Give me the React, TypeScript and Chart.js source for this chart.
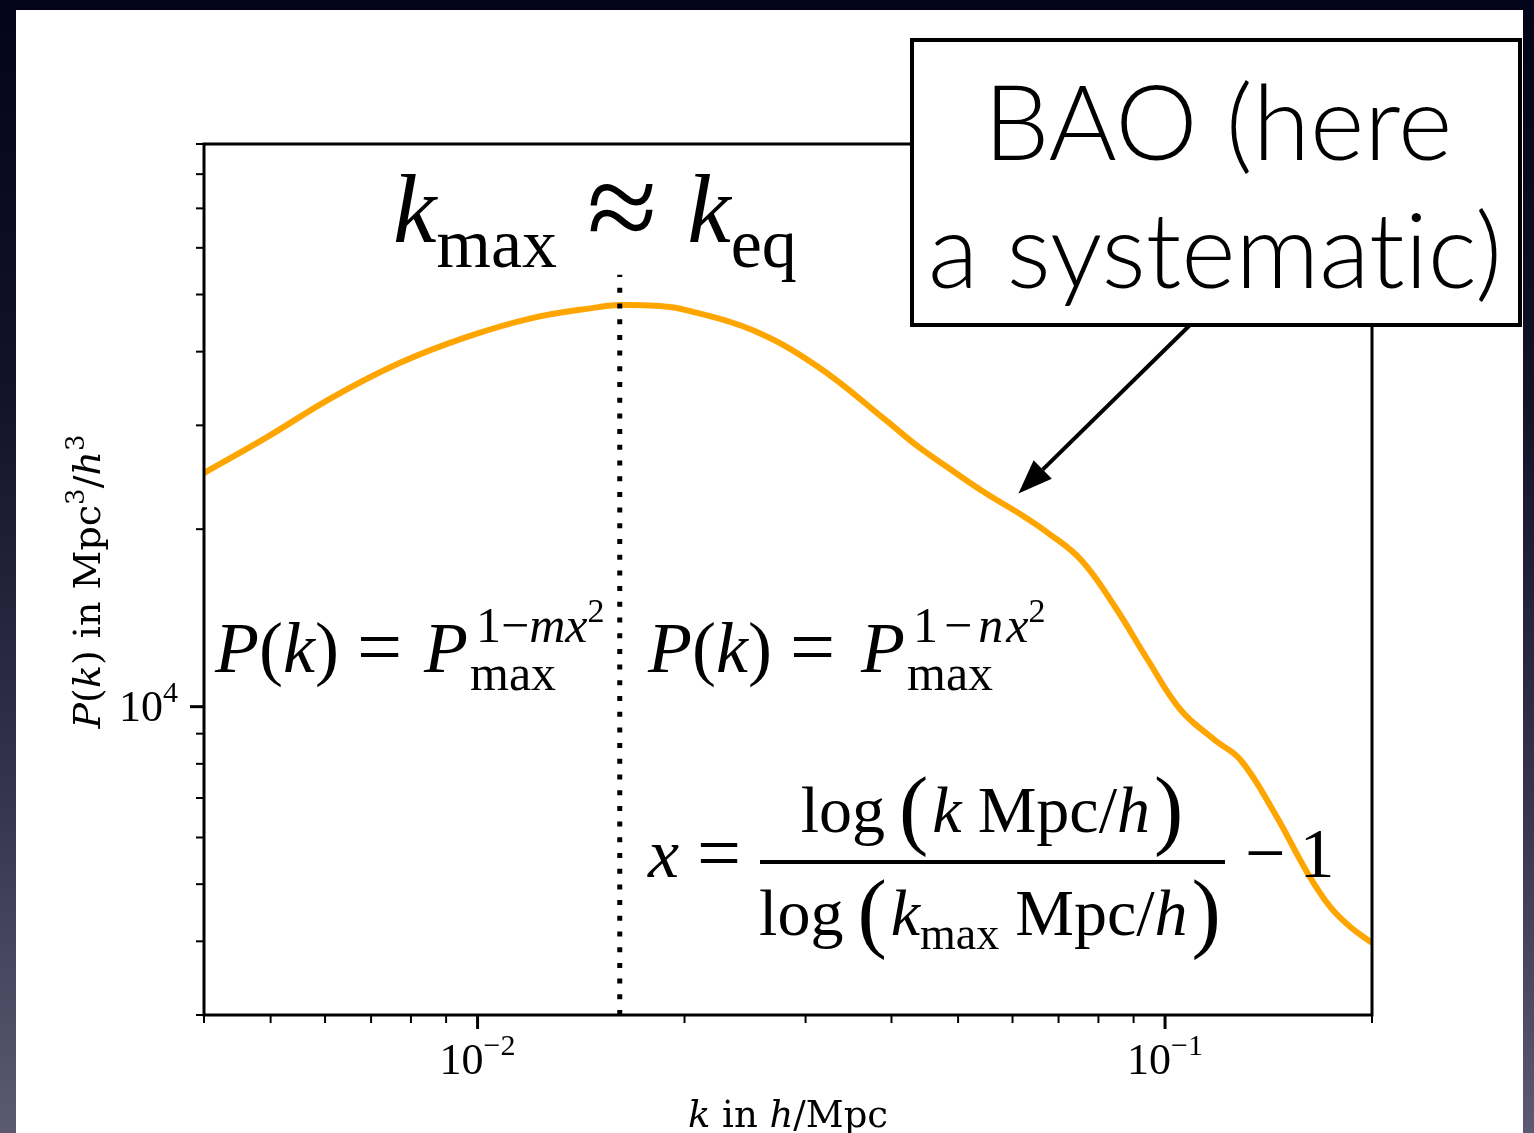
import React, { useEffect, useRef } from 'react';
import { Chart, registerables } from 'chart.js';

Chart.register(...registerables);

// ---- data ----
const K_VALUES = [
  0.004, 0.00494, 0.00616, 0.0077, 0.00963, 0.012, 0.015, 0.0161, 0.0184, 0.0201,
  0.0251, 0.0313, 0.0392, 0.0438, 0.0489, 0.0548, 0.0612, 0.0676, 0.0755, 0.0846,
  0.0944, 0.1054, 0.1181, 0.1288, 0.1443, 0.1612, 0.174, 0.186, 0.2,
];
const P_VALUES = [
  24900, 28650, 33500, 38260, 42330, 45600, 47600, 48000, 47800, 47060,
  43530, 37680, 30640, 27570, 25200, 23030, 21300, 19700, 17730, 14760,
  12000, 9870, 8780, 8120, 6600, 5220, 4570, 4230, 3975,
];
const K_MAX = 0.0161;
const K_MAX_LINE_P = [3000, 54000];
const X_RANGE = [0.004, 0.2];
const Y_RANGE = [3000, 90000];
const X_MAJOR_TICKS = [0.01, 0.1];
const X_MAJOR_LABELS = [['10', '−2'], ['10', '−1']];
const X_MINOR_TICKS = [0.004, 0.005, 0.006, 0.007, 0.008, 0.009, 0.02, 0.03, 0.04, 0.05, 0.06, 0.07, 0.08, 0.09, 0.2];
const Y_MAJOR_TICKS = [10000];
const Y_MAJOR_LABELS = [['10', '4']];
const Y_MINOR_TICKS = [3000, 4000, 5000, 6000, 7000, 8000, 9000, 20000, 30000, 40000, 50000, 60000, 70000, 80000, 90000];
const ARROW_TIP = { k: 0.0612, p: 23000 };
const BOX_LINES = ['BAO (here', 'a systematic)'];

const SERIF = '"Liberation Serif", "Times New Roman", serif';
const TITLE_SERIF = '"DejaVu Serif", "Liberation Serif", serif';
const SANS_LIGHT = 'Lato, "Open Sans", Roboto, sans-serif';

type Run = { t?: string; s?: number; i?: boolean; dy?: number; gap?: number; stack?: Run[][]; f?: string; w?: number };

function fontOf(r: Run) {
  return `${r.i ? 'italic ' : ''}${r.w || 400} ${r.s || 40}px ${r.f || SERIF}`;
}
function runWidth(ctx: CanvasRenderingContext2D, r: Run): number {
  if (r.gap !== undefined) return r.gap;
  if (r.stack) return Math.max(...r.stack.map((s) => seqWidth(ctx, s)));
  ctx.font = fontOf(r);
  return ctx.measureText(r.t || '').width;
}
function seqWidth(ctx: CanvasRenderingContext2D, seq: Run[]): number {
  return seq.reduce((a, r) => a + runWidth(ctx, r), 0);
}
function drawSeq(ctx: CanvasRenderingContext2D, seq: Run[], x: number, y: number): number {
  for (const r of seq) {
    if (r.gap !== undefined) { x += r.gap; continue; }
    if (r.stack) {
      for (const s of r.stack) drawSeq(ctx, s, x, y);
      x += runWidth(ctx, r);
      continue;
    }
    ctx.font = fontOf(r);
    ctx.fillText(r.t || '', x, y + (r.dy || 0));
    x += ctx.measureText(r.t || '').width;
  }
  return x;
}
function drawSeqCentered(ctx: CanvasRenderingContext2D, seq: Run[], cx: number, y: number) {
  drawSeq(ctx, seq, cx - seqWidth(ctx, seq) / 2, y);
}

function pFormula(letter: string, g1: number, g2: number, sg: number): Run[] {
  return [
    { t: 'P', s: 72, i: true },
    { t: '(', s: 72 },
    { t: 'k', s: 72, i: true },
    { t: ')', s: 72 },
    { gap: g1 },
    { t: '=', s: 80, dy: 2 },
    { gap: g2 },
    { t: 'P', s: 72, i: true },
    { gap: 2 },
    {
      stack: [
        [{ t: 'max', s: 50, dy: 18 }],
        [
          { gap: 6 },
          { t: '1', s: 50, dy: -30 },
          { gap: sg },
          { t: '−', s: 50, dy: -30 },
          { gap: sg },
          { t: letter, s: 50, i: true, dy: -30 },
          { gap: sg / 2 },
          { t: 'x', s: 50, i: true, dy: -30 },
          { t: '2', s: 34, dy: -50 },
        ],
      ],
    },
  ];
}

const annotPlugin = {
  id: 'annot',
  afterDraw(chart: any) {
    const { ctx, chartArea: a } = chart;
    const xs = chart.scales.x;
    const ys = chart.scales.y;
    ctx.save();
    ctx.fillStyle = '#000';
    ctx.strokeStyle = '#000';
    ctx.textBaseline = 'alphabetic';
    ctx.textAlign = 'left';

    // frame
    ctx.lineWidth = 3;
    ctx.strokeRect(a.left, a.top, a.right - a.left, a.bottom - a.top);

    // ticks
    const tickX = (v: number, len: number, w: number) => {
      const px = xs.getPixelForValue(v);
      ctx.lineWidth = w;
      ctx.beginPath();
      ctx.moveTo(px, a.bottom);
      ctx.lineTo(px, a.bottom + len);
      ctx.stroke();
    };
    const tickY = (v: number, len: number, w: number) => {
      const py = ys.getPixelForValue(v);
      ctx.lineWidth = w;
      ctx.beginPath();
      ctx.moveTo(a.left, py);
      ctx.lineTo(a.left - len, py);
      ctx.stroke();
    };
    X_MINOR_TICKS.forEach((v) => tickX(v, 8, 2));
    X_MAJOR_TICKS.forEach((v) => tickX(v, 14, 3));
    Y_MINOR_TICKS.forEach((v) => tickY(v, 8, 2));
    Y_MAJOR_TICKS.forEach((v) => tickY(v, 14, 3));

    // tick labels
    X_MAJOR_TICKS.forEach((v, i) => {
      const [b, e] = X_MAJOR_LABELS[i];
      drawSeqCentered(ctx, [{ t: b, s: 44 }, { t: e, s: 30, dy: -19 }], xs.getPixelForValue(v), a.bottom + 59);
    });
    Y_MAJOR_TICKS.forEach((v, i) => {
      const [b, e] = Y_MAJOR_LABELS[i];
      const seq: Run[] = [{ t: b, s: 44 }, { t: e, s: 30, dy: -19 }];
      drawSeq(ctx, seq, a.left - 26 - seqWidth(ctx, seq), ys.getPixelForValue(v) + 14);
    });

    // axis titles
    const xTitle: Run[] = [
      { t: 'k', s: 37, i: true, f: TITLE_SERIF },
      { t: ' in ', s: 37, f: TITLE_SERIF },
      { t: 'h', s: 37, i: true, f: TITLE_SERIF },
      { t: '/Mpc', s: 37, f: TITLE_SERIF },
    ];
    drawSeqCentered(ctx, xTitle, (a.left + a.right) / 2, a.bottom + 112);
    const yTitle: Run[] = [
      { t: 'P', s: 38, i: true, f: TITLE_SERIF },
      { t: '(', s: 38, f: TITLE_SERIF },
      { t: 'k', s: 38, i: true, f: TITLE_SERIF },
      { t: ') in Mpc', s: 38, f: TITLE_SERIF },
      { t: '3', s: 26, dy: -16, f: TITLE_SERIF },
      { t: '/', s: 38, f: TITLE_SERIF },
      { t: 'h', s: 38, i: true, f: TITLE_SERIF },
      { t: '3', s: 26, dy: -16, f: TITLE_SERIF },
    ];
    ctx.save();
    ctx.translate(100, (a.top + a.bottom) / 2 + 2);
    ctx.rotate(-Math.PI / 2);
    drawSeqCentered(ctx, yTitle, 0, 0);
    ctx.restore();

    // title k_max ≈ k_eq
    drawSeq(ctx, [
      { t: 'k', s: 98, i: true },
      { t: 'max', s: 70, dy: 25 },
      { gap: 30 },
      { t: '≈', s: 128, dy: 8 },
      { gap: 30 },
      { t: 'k', s: 98, i: true },
      { t: 'eq', s: 70, dy: 25 },
    ], 393, 242);

    // P(k) formulas
    drawSeq(ctx, pFormula('m', 18, 22, 0), 215, 672);
    drawSeq(ctx, pFormula('n', 18, 26, 6), 648, 672);

    // x = log(...)/log(...) - 1
    drawSeq(ctx, [{ t: 'x', s: 70, i: true }, { gap: 18 }, { t: '=', s: 78, dy: 2 }], 648, 877);
    ctx.fillRect(760, 860, 465, 4);
    drawSeqCentered(ctx, [
      { t: 'log', s: 66 }, { gap: 14 }, { t: '(', s: 88, dy: 6 }, { gap: 4 },
      { t: 'k', s: 66, i: true }, { gap: 16 }, { t: 'Mpc', s: 66 }, { t: '/', s: 66 },
      { t: 'h', s: 66, i: true }, { gap: 4 }, { t: ')', s: 88, dy: 6 },
    ], 992, 832);
    drawSeqCentered(ctx, [
      { t: 'log', s: 66 }, { gap: 14 }, { t: '(', s: 88, dy: 6 }, { gap: 4 },
      { t: 'k', s: 66, i: true }, { t: 'max', s: 46, dy: 14 }, { gap: 16 },
      { t: 'Mpc', s: 66 }, { t: '/', s: 66 },
      { t: 'h', s: 66, i: true }, { gap: 4 }, { t: ')', s: 88, dy: 6 },
    ], 990, 935);
    drawSeq(ctx, [{ t: '−', s: 72 }, { gap: 14 }, { t: '1', s: 70 }], 1245, 877);

    // BAO box
    const bx = 912, by = 40, bw = 608, bh = 285;
    ctx.fillStyle = '#fff';
    ctx.fillRect(bx, by, bw, bh);
    ctx.lineWidth = 4;
    ctx.strokeRect(bx, by, bw, bh);
    ctx.fillStyle = '#000';
    try { (ctx as any).textRendering = 'optimizeSpeed'; } catch (e) { /* ignore */ }
    ctx.font = `300 100px ${SANS_LIGHT}`;
    const wRef = ctx.measureText(BOX_LINES[1]).width;
    const fs = Math.min(112, (100 * 574) / wRef);
    ctx.font = `300 ${fs.toFixed(1)}px ${SANS_LIGHT}`;
    ctx.textAlign = 'center';
    ctx.fillText(BOX_LINES[0], bx + bw / 2 + 2, 160);
    ctx.fillText(BOX_LINES[1], bx + bw / 2 - 1, 288);
    ctx.textAlign = 'left';

    // arrow
    const sx = 1190, sy = by + bh;
    const tx = xs.getPixelForValue(ARROW_TIP.k);
    const ty = ys.getPixelForValue(ARROW_TIP.p);
    const ang = Math.atan2(ty - sy, tx - sx);
    const hl = 34, hw = 13;
    const bxp = tx - hl * Math.cos(ang), byp = ty - hl * Math.sin(ang);
    ctx.lineWidth = 4;
    ctx.beginPath();
    ctx.moveTo(sx, sy);
    ctx.lineTo(bxp, byp);
    ctx.stroke();
    ctx.beginPath();
    ctx.moveTo(tx, ty);
    ctx.lineTo(bxp + hw * Math.sin(ang), byp - hw * Math.cos(ang));
    ctx.lineTo(bxp - hw * Math.sin(ang), byp + hw * Math.cos(ang));
    ctx.closePath();
    ctx.fill();

    ctx.restore();
  },
};

export default function App() {
  const ref = useRef<HTMLCanvasElement>(null);
  useEffect(() => {
    const chart = new Chart(ref.current as HTMLCanvasElement, {
      type: 'line',
      data: {
        datasets: [
          {
            label: 'k_max',
            data: K_MAX_LINE_P.map((p) => ({ x: K_MAX, y: p })),
            borderColor: '#000',
            borderWidth: 5,
            borderDash: [5, 10.7],
            borderCapStyle: 'butt',
            pointRadius: 0,
            order: 0,
          },
          {
            label: 'P(k)',
            data: K_VALUES.map((k, i) => ({ x: k, y: P_VALUES[i] })),
            borderColor: '#FFA500',
            borderWidth: 6,
            pointRadius: 0,
            tension: 0.4,
            order: 1,
          },
        ],
      },
      options: {
        responsive: false,
        animation: false,
        devicePixelRatio: 1,
        layout: { padding: { left: 0, top: 144, right: 162, bottom: 0 } },
        plugins: { legend: { display: false }, tooltip: { enabled: false } },
        scales: {
          x: {
            type: 'logarithmic',
            min: X_RANGE[0],
            max: X_RANGE[1],
            ticks: { display: false },
            grid: { display: false },
            border: { display: false },
            afterFit: (s: any) => { s.height = 118; },
          },
          y: {
            type: 'logarithmic',
            min: Y_RANGE[0],
            max: Y_RANGE[1],
            ticks: { display: false },
            grid: { display: false },
            border: { display: false },
            afterFit: (s: any) => { s.width = 204; },
          },
        },
      } as any,
      plugins: [annotPlugin],
    } as any);
    return () => chart.destroy();
  }, []);
  return (
    <div
      style={{
        position: 'fixed',
        left: 0,
        top: 0,
        width: 1534,
        height: 1133,
        overflow: 'hidden',
        background: 'linear-gradient(180deg, #03031a 0%, #121229 35%, #35334e 70%, #5c5a72 100%)',
      }}
    >
      <div style={{ position: 'absolute', left: 16, top: 10, width: 1507, height: 1123, background: '#fff' }} />
      <canvas
        ref={ref}
        width={1534}
        height={1133}
        style={{ position: 'absolute', left: 0, top: 0, width: 1534, height: 1133 }}
      />
    </div>
  );
}
